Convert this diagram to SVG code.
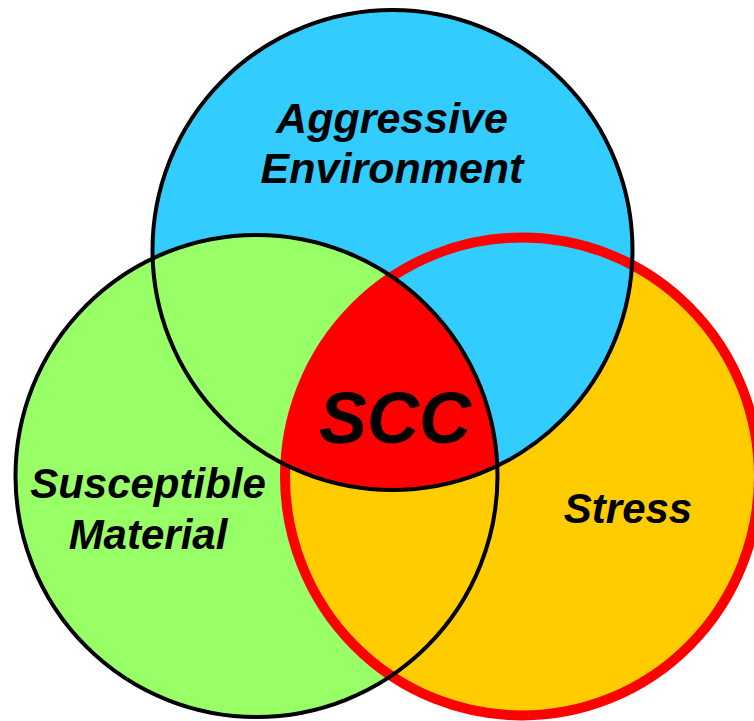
<svg xmlns="http://www.w3.org/2000/svg" width="754" height="721" viewBox="0 0 754 721">
  <style>
    .lbl { font-family: "Liberation Sans", Arial, sans-serif; font-weight: bold; font-style: italic; fill: #000; text-anchor: middle; }
    .edge { fill: none; stroke: #000; stroke-width: 4; }
  </style>
  <defs>
    <clipPath id="cB"><circle cx="392.5" cy="250" r="240"/></clipPath>
    <clipPath id="cG"><circle cx="256.5" cy="476" r="241"/></clipPath>
    <clipPath id="cO"><ellipse cx="522" cy="476.5" rx="237" ry="239"/></clipPath>
  </defs>
  <rect width="754" height="721" fill="#fff"/>
  <g id="environment">
    <circle cx="392.5" cy="250" r="240" fill="#33CCFF"/>
  </g>
  <g id="material">
    <circle cx="256.5" cy="476" r="241" fill="#99FF66"/>
  </g>
  <g id="stress">
    <ellipse cx="522" cy="476.5" rx="237" ry="239" fill="#FFCC00"/>
  </g>
  <g id="overlaps">
    <circle cx="392.5" cy="250" r="240" fill="#33CCFF" clip-path="url(#cO)"/>
    <circle cx="256.5" cy="476" r="241" fill="#99FF66" clip-path="url(#cB)"/>
    <ellipse cx="522" cy="476.5" rx="237" ry="239" fill="#FFCC00" clip-path="url(#cG)"/>
    <g id="scc" clip-path="url(#cG)">
      <ellipse cx="522" cy="476.5" rx="237" ry="239" fill="#FF0000" clip-path="url(#cB)"/>
    </g>
  </g>
  <g id="outlines">
    <ellipse cx="522" cy="476.5" rx="237" ry="239" fill="none" stroke="#FF0000" stroke-width="10"/>
    <circle class="edge" cx="392.5" cy="250" r="240"/>
    <circle class="edge" cx="256.5" cy="476" r="241"/>
  </g>
  <g id="labels">
    <text class="lbl" x="392" y="133" font-size="43">Aggressive</text>
    <text class="lbl" x="392" y="183" font-size="43">Environment</text>
    <text class="lbl" x="148" y="498" font-size="42">Susceptible</text>
    <text class="lbl" x="148" y="549" font-size="42">Material</text>
    <text class="lbl" x="628" y="523" font-size="42">Stress</text>
    <text class="lbl" x="395" y="443" font-size="72">SCC</text>
  </g>
</svg>
